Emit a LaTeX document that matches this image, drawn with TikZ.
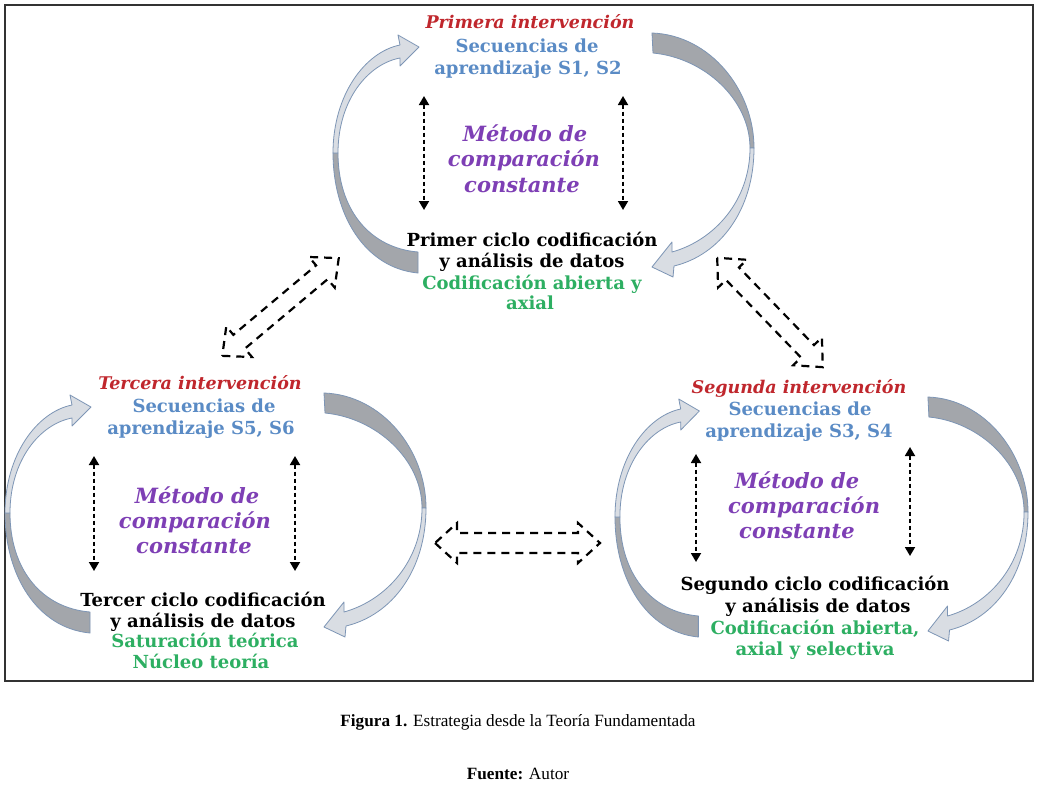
\documentclass[tikz,border=0pt]{standalone}
\usepackage{fontspec}
\setmainfont{DejaVu Serif}
\newfontfamily\capfont{Liberation Serif}
\usetikzlibrary{arrows.meta}
\definecolor{redT}{HTML}{C0272D}
\definecolor{blueT}{HTML}{5A8BC5}
\definecolor{purpT}{HTML}{7E3FB5}
\definecolor{greenT}{HTML}{2DAF62}
\definecolor{arrDark}{HTML}{A3A6AB}
\definecolor{arrLight}{HTML}{D9DDE3}
\definecolor{arrLine}{HTML}{7D95B5}
\tikzset{
  txt/.style={inner sep=0pt, anchor=base, font=\fontsize{18}{21}\selectfont\bfseries},
  hdr/.style={txt, text=redT, font=\fontsize{17.5}{21}\selectfont\bfseries\itshape},
  seq/.style={txt, text=blueT},
  met/.style={inner sep=0pt, anchor=base, text=purpT, font=\fontsize{21}{24}\selectfont\bfseries\itshape},
  cod/.style={txt, text=black},
  res/.style={txt, text=greenT},
  darkpart/.style={fill=arrDark, draw=arrLine, line width=0.8pt, line join=round},
  lightpart/.style={fill=arrLight, draw=arrLine, line width=0.8pt, line join=round},
  vdash/.style={{Triangle[length=9pt,width=10pt]}-{Triangle[length=9pt,width=10pt]}, dash pattern=on 4pt off 3pt, line width=1.8pt},
  blockdash/.style={draw=black, line width=2.2pt, dash pattern=on 8pt off 6pt, line join=miter},
  capstyle/.style={inner sep=0pt, anchor=base, font=\capfont\fontsize{17.2}{20}\selectfont}
}
\newcommand\cyclearrows{%
  \path[darkpart] (418,252) -- (418,273) .. controls (365,268) and (333,215) .. (333,153)
     -- (338,153) .. controls (338,210) and (370,248) .. (418,252) -- cycle;
  \path[lightpart] (333,153) .. controls (333,95) and (365,52) .. (400,45) -- (398,35) -- (419,47)
     -- (400,66) -- (400,58) .. controls (368,64) and (338,100) .. (338,153) -- cycle;
  \path[darkpart] (652,33) .. controls (710,35) and (754,90) .. (754,148) -- (750,148)
     .. controls (750,100) and (705,58) .. (653,53) -- cycle;
  \path[lightpart] (754,148) .. controls (754,210) and (720,255) .. (674,266) -- (673,277) -- (652,267)
     -- (672,242) -- (672,252) .. controls (715,240) and (750,200) .. (750,148) -- cycle;
}
\newcommand\dblblock[2]{% half length, half shaft
  \path[blockdash] (-#1,0) -- ({-#1+22},20) -- ({-#1+22},#2) -- ({#1-22},#2) -- ({#1-22},20) -- (#1,0)
    -- ({#1-22},-20) -- ({#1-22},-#2) -- ({-#1+22},-#2) -- ({-#1+22},-20) -- cycle;
}
\begin{document}
\begin{tikzpicture}[x=1pt,y=-1pt]
\useasboundingbox (0,0) rectangle (1039,785);
\fill[white] (0,0) rectangle (1039,785);
\draw[line width=2pt, draw=black!80] (5,5) rectangle (1033,681);

% curved cycle arrows
\begin{scope}\cyclearrows\end{scope}
\begin{scope}[shift={(-328,360)}]\cyclearrows\end{scope}
\begin{scope}[shift={(821.5,364)}, xscale=0.981, shift={(-543.5,0)}]\cyclearrows\end{scope}

% dashed block double arrows
\begin{scope}[shift={(280.5,307)}, rotate=40]\dblblock{76}{9}\end{scope}
\begin{scope}[shift={(770,312.5)}, rotate=-46]\dblblock{76}{9}\end{scope}
\begin{scope}[shift={(517.5,543)}]\dblblock{82.5}{10}\end{scope}

% ---- top cycle
\node[hdr] (p1) at (530,28) {Primera intervención};
\node[seq] (p2) at (527,52) {Secuencias de};
\node[seq] (p3) at (528,74) {aprendizaje S1, S2};
\node[met] (p4) at (525,141) {Método de};
\node[met] (p5) at (524,166) {comparación};
\node[met] (p6) at (522,192) {constante};
\node[cod] (p7) at (532,246) {Primer ciclo codificación};
\node[cod] (p8) at (532,267) {y análisis de datos};
\node[res] (p9) at (532,289) {Codificación abierta y};
\node[res] (p10) at (530,309) {axial};
\coordinate (pa1) at (424,96); \coordinate (pa2) at (424,210);
\coordinate (pb1) at (623,96); \coordinate (pb2) at (623,210);
\draw[vdash] (pa1) -- (pa2);
\draw[vdash] (pb1) -- (pb2);

% ---- left cycle
\node[hdr] (t1) at (200,389) {Tercera intervención};
\node[seq] (t2) at (204,412) {Secuencias de};
\node[seq] (t3) at (201,434) {aprendizaje S5, S6};
\node[met] (t4) at (197,503) {Método de};
\node[met] (t5) at (195,528) {comparación};
\node[met] (t6) at (194,553) {constante};
\node[cod] (t7) at (203,606) {Tercer ciclo codificación};
\node[cod] (t8) at (203,627) {y análisis de datos};
\node[res] (t9) at (205,647) {Saturación teórica};
\node[res] (t10) at (201,668) {Núcleo teoría};
\coordinate (ta1) at (94,456); \coordinate (ta2) at (94,571);
\coordinate (tb1) at (295,456); \coordinate (tb2) at (295,571);
\draw[vdash] (ta1) -- (ta2);
\draw[vdash] (tb1) -- (tb2);

% ---- right cycle
\node[hdr] (s1) at (799,393) {Segunda intervención};
\node[seq] (s2) at (800,415) {Secuencias de};
\node[seq] (s3) at (799,437) {aprendizaje S3, S4};
\node[met] (s4) at (797,488) {Método de};
\node[met] (s5) at (804,513) {comparación};
\node[met] (s6) at (797,538) {constante};
\node[cod] (s7) at (815,590) {Segundo ciclo codificación};
\node[cod] (s8) at (818,612) {y análisis de datos};
\node[res] (s9) at (815,634) {Codificación abierta,};
\node[res] (s10) at (815,655) {axial y selectiva};
\coordinate (sa1) at (696,454); \coordinate (sa2) at (696,562);
\coordinate (sb1) at (910,447); \coordinate (sb2) at (910,556);
\draw[vdash] (sa1) -- (sa2);
\draw[vdash] (sb1) -- (sb2);

% caption
\node[capstyle] (c1) at (518,726) {\textbf{Figura 1.} Estrategia desde la Teoría Fundamentada};
\node[capstyle] (c2) at (518,779) {\textbf{Fuente:} Autor};
\end{tikzpicture}
\end{document}
